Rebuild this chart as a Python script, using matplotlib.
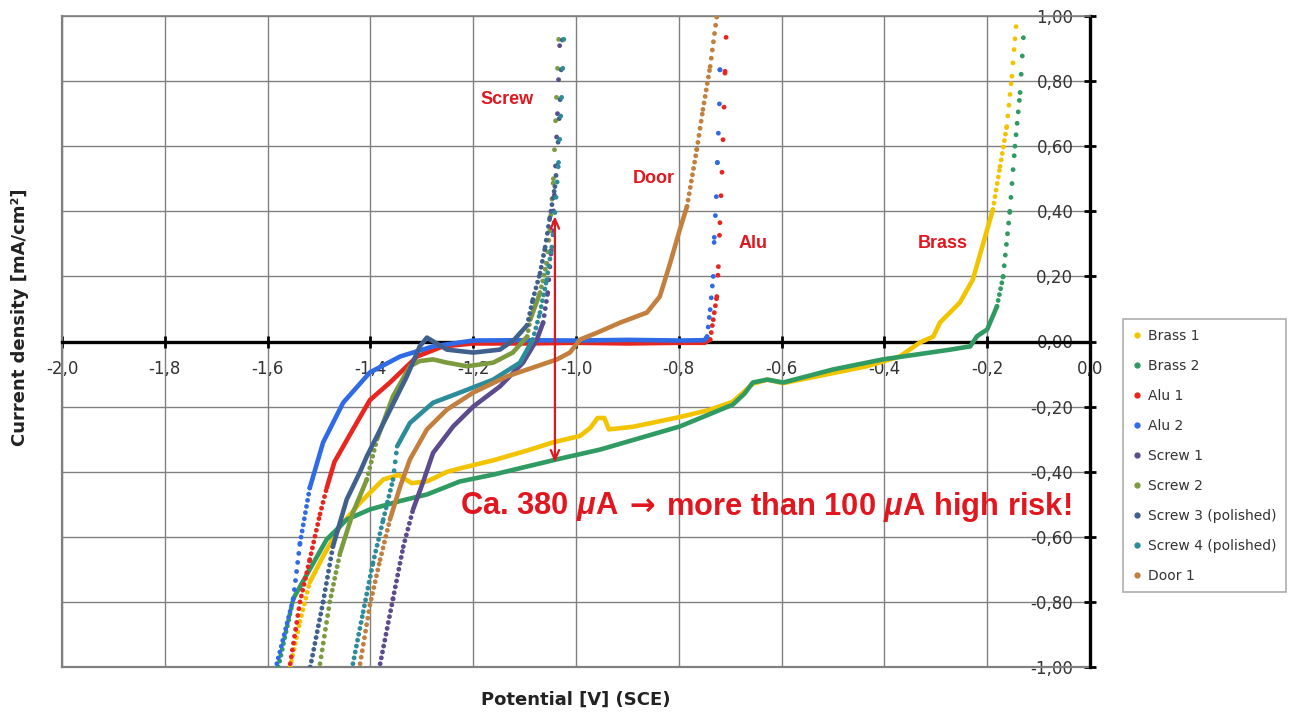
import numpy as np
import matplotlib

matplotlib.use("Agg")
import matplotlib.pyplot as plt
from matplotlib.lines import Line2D

plt.rcParams["font.family"] = ["DejaVu Sans"]
plt.rcParams["mathtext.fontset"] = "custom"
plt.rcParams["mathtext.it"] = "Liberation Sans:italic:bold"
plt.rcParams["mathtext.rm"] = "Liberation Sans:bold"

# ---- data (potential V vs SCE, current mA/cm2) ----
brass1_x = [-1.556, -1.537, -1.518, -1.492, -1.459, -1.42, -1.375, -1.345, -1.32, -1.29,
            -1.25, -1.226, -1.161, -1.095, -1.045, -0.992, -0.972, -0.958, -0.945, -0.936,
            -0.889, -0.798, -0.74, -0.695, -0.67, -0.656, -0.628, -0.597, -0.531, -0.434,
            -0.37, -0.331, -0.305, -0.292, -0.253, -0.228, -0.208, -0.189, -0.175, -0.162,
            -0.152, -0.146, -0.142]
brass1_y = [-1.0, -0.86, -0.74, -0.66, -0.568, -0.495, -0.424, -0.41, -0.435, -0.43,
            -0.40, -0.39, -0.365, -0.335, -0.31, -0.29, -0.265, -0.235, -0.235, -0.27,
            -0.262, -0.232, -0.21, -0.185, -0.15, -0.13, -0.117, -0.128, -0.107, -0.076,
            -0.046, -0.003, 0.015, 0.058, 0.12, 0.19, 0.30, 0.405, 0.538, 0.66,
            0.815, 0.93, 1.0]

brass2_x = [-1.579, -1.55, -1.518, -1.485, -1.446, -1.401, -1.342, -1.29, -1.226, -1.161,
            -1.037, -0.953, -0.798, -0.695, -0.672, -0.656, -0.628, -0.597, -0.50, -0.403,
            -0.272, -0.233, -0.22, -0.2, -0.181, -0.169, -0.156, -0.146, -0.136, -0.128]
brass2_y = [-1.0, -0.79, -0.70, -0.608, -0.547, -0.516, -0.49, -0.47, -0.43, -0.409,
            -0.362, -0.332, -0.261, -0.194, -0.16, -0.126, -0.117, -0.126, -0.086, -0.055,
            -0.025, -0.015, 0.016, 0.037, 0.108, 0.20, 0.40, 0.60, 0.765, 0.975]

alu1_x = [-1.556, -1.537, -1.518, -1.498, -1.485, -1.47, -1.434, -1.401, -1.362, -1.309,
          -1.259, -1.2, -1.1, -1.0, -0.9, -0.8, -0.75, -0.739, -0.733, -0.726,
          -0.723, -0.72, -0.716, -0.714, -0.712, -0.71, -0.708]
alu1_y = [-0.99, -0.80, -0.67, -0.53, -0.45, -0.37, -0.27, -0.18, -0.126, -0.046,
          -0.015, -0.006, -0.006, -0.004, -0.006, -0.004, -0.004, 0.006, 0.067, 0.138,
          0.23, 0.365, 0.52, 0.62, 0.72, 0.83, 0.937]

alu2_x = [-1.582, -1.55, -1.537, -1.518, -1.492, -1.453, -1.401, -1.342, -1.278, -1.2,
          -1.1, -1.0, -0.9, -0.8, -0.75, -0.745, -0.739, -0.733, -0.731, -0.727,
          -0.725, -0.723, -0.721, -0.72, -0.718]
alu2_y = [-0.99, -0.79, -0.62, -0.45, -0.31, -0.188, -0.095, -0.046, -0.015, 0.003,
          0.004, 0.003, 0.005, 0.003, 0.004, 0.015, 0.098, 0.2, 0.32, 0.445,
          0.55, 0.64, 0.73, 0.835, 0.937]

screw1_x = [-1.381, -1.356, -1.336, -1.317, -1.298, -1.278, -1.239, -1.2, -1.148, -1.103,
            -1.076, -1.064, -1.055, -1.048, -1.042, -1.036, -1.03]
screw1_y = [-0.99, -0.79, -0.63, -0.516, -0.434, -0.342, -0.261, -0.2, -0.138, -0.065,
            0.006, 0.058, 0.15, 0.28, 0.45, 0.70, 1.0]

screw2_x = [-1.498, -1.479, -1.459, -1.434, -1.407, -1.387, -1.356, -1.323, -1.304, -1.278,
            -1.251, -1.212, -1.161, -1.123, -1.095, -1.089, -1.07, -1.057, -1.051, -1.044,
            -1.038, -1.032]
screw2_y = [-0.99, -0.80, -0.65, -0.526, -0.424, -0.30, -0.168, -0.076, -0.06, -0.055,
            -0.065, -0.076, -0.065, -0.034, 0.015, 0.067, 0.15, 0.24, 0.34, 0.50,
            0.75, 1.0]

screw3_x = [-1.517, -1.492, -1.473, -1.446, -1.42, -1.407, -1.368, -1.329, -1.304, -1.29,
            -1.251, -1.2, -1.148, -1.12, -1.095, -1.084, -1.07, -1.06, -1.051, -1.041,
            -1.037, -1.031, -1.025]
screw3_y = [-1.0, -0.80, -0.63, -0.485, -0.40, -0.353, -0.23, -0.107, -0.015, 0.012,
            -0.025, -0.034, -0.025, 0.006, 0.05, 0.129, 0.21, 0.29, 0.38, 0.476,
            0.54, 0.743, 1.0]

screw4_x = [-1.434, -1.414, -1.395, -1.375, -1.356, -1.348, -1.323, -1.278, -1.226, -1.161,
            -1.109, -1.084, -1.07, -1.057, -1.047, -1.041, -1.034, -1.028, -1.022]
screw4_y = [-0.99, -0.83, -0.68, -0.547, -0.424, -0.322, -0.25, -0.188, -0.157, -0.117,
            -0.065, 0.006, 0.089, 0.19, 0.29, 0.396, 0.55, 0.75, 1.0]

door1_x = [-1.42, -1.401, -1.381, -1.362, -1.342, -1.323, -1.29, -1.251, -1.2, -1.134,
           -1.076, -1.037, -1.012, -0.992, -0.959, -0.914, -0.862, -0.837, -0.817, -0.798,
           -0.784, -0.765, -0.753, -0.739, -0.726]
door1_y = [-0.99, -0.81, -0.67, -0.547, -0.445, -0.362, -0.27, -0.209, -0.157, -0.107,
           -0.076, -0.055, -0.034, 0.006, 0.027, 0.058, 0.089, 0.138, 0.24, 0.344,
           0.415, 0.59, 0.713, 0.845, 1.0]

series_names = ["Brass 1", "Brass 2", "Alu 1", "Alu 2", "Screw 1", "Screw 2",
                "Screw 3 (polished)", "Screw 4 (polished)", "Door 1"]
series_x = [brass1_x, brass2_x, alu1_x, alu2_x, screw1_x, screw2_x, screw3_x, screw4_x, door1_x]
series_y = [brass1_y, brass2_y, alu1_y, alu2_y, screw1_y, screw2_y, screw3_y, screw4_y, door1_y]
series_colors = ["#F2C400", "#2F9A62", "#E8251E", "#2F6BE6", "#5C4B8E",
                 "#7C9A3E", "#40608E", "#2C8C99", "#C27F3D"]

x_ticks = [-2.0, -1.8, -1.6, -1.4, -1.2, -1.0, -0.8, -0.6, -0.4, -0.2, 0.0]
x_tick_labels = ["-2,0", "-1,8", "-1,6", "-1,4", "-1,2", "-1,0", "-0,8", "-0,6", "-0,4", "-0,2", "0,0"]
y_ticks = [-1.0, -0.8, -0.6, -0.4, -0.2, 0.0, 0.2, 0.4, 0.6, 0.8, 1.0]
y_tick_labels = ["-1,00", "-0,80", "-0,60", "-0,40", "-0,20", "0,00",
                 "0,20", "0,40", "0,60", "0,80", "1,00"]

RED = "#E2161E"
GRID = "#808080"
STEEP = 3.5  # screen slope above which the sampled points separate into dots
LW_SOLID = 3.3
LW_DOT = 3.5


def draw_curve(ax, xs, ys, color):
    """Dense parts as a thick line, steep parts as separated dots (like the raw samples)."""
    xs = np.asarray(xs)
    ys = np.asarray(ys)
    pts = ax.transData.transform(np.column_stack([xs, ys]))
    d = np.diff(pts, axis=0)
    steep = np.abs(d[:, 1]) / np.maximum(np.abs(d[:, 0]), 1e-9)
    i, n = 0, len(steep)
    while i < n:
        if steep[i] < STEEP:
            j = i
            while j < n and steep[j] < STEEP:
                j += 1
            ax.plot(xs[i:j + 1], ys[i:j + 1], color=color, lw=LW_SOLID,
                    solid_capstyle="round", solid_joinstyle="round", zorder=3)
            i = j
        else:
            gap_px = min(max(steep[i] * 1.1, 6.0), 34.0)
            gap = gap_px * 0.72 / LW_DOT
            ax.plot(xs[i:i + 2], ys[i:i + 2], color=color, lw=LW_DOT,
                    linestyle=(0, (0.001, gap)), dash_capstyle="round", zorder=3)
            i += 1


fig = plt.figure(figsize=(12.98, 7.13), dpi=100)
ax = fig.add_axes([62 / 1298, 46 / 713, 1028 / 1298, 651 / 713])
ax.set_xlim(-2.0, 0.0)
ax.set_ylim(-1.0, 1.0)

ax.set_xticks(x_ticks)
ax.set_xticklabels(x_tick_labels)
ax.set_yticks(y_ticks)
ax.set_yticklabels(y_tick_labels)
ax.grid(True, color=GRID, lw=1.0)
ax.set_axisbelow(True)

# axes cross at the origin, grey frame around the plot
for side in ("left", "bottom"):
    ax.spines[side].set_position(("data", 0))
    ax.spines[side].set_color("black")
    ax.spines[side].set_linewidth(2.4)
    ax.spines[side].set_zorder(2.5)
ax.spines["right"].set_visible(False)
ax.spines["top"].set_color(GRID)
ax.spines["top"].set_linewidth(1.2)
ax.axvline(-2.0, color=GRID, lw=1.6, clip_on=False, zorder=1)
ax.axhline(-1.0, color=GRID, lw=1.6, clip_on=False, zorder=1)

ax.tick_params(axis="both", direction="inout", length=8, width=2, color="black",
               labelsize=12, labelcolor="#333333")
ax.tick_params(axis="x", pad=9)
ax.tick_params(axis="y", pad=8)

for xs, ys, c in zip(series_x, series_y, series_colors):
    draw_curve(ax, xs, ys, c)

# annotations
ax.annotate("", xy=(-1.041, 0.385), xytext=(-1.041, -0.372),
            arrowprops=dict(arrowstyle="<->,head_length=0.7,head_width=0.3",
                            color=RED, lw=1.6, shrinkA=0, shrinkB=0), zorder=5)
lab_kw = dict(color=RED, fontsize=13, fontweight="bold", ha="center", va="center",
              family=["Liberation Sans", "DejaVu Sans"], zorder=6)
ax.text(-1.134, 0.743, "Screw", **lab_kw)
ax.text(-0.848, 0.50, "Door", **lab_kw)
ax.text(-0.656, 0.30, "Alu", **lab_kw)
ax.text(-0.286, 0.30, "Brass", **lab_kw)

big_kw = dict(color=RED, fontsize=22.2, fontweight="bold", zorder=6)
t1 = ax.text(-1.226, -0.507, r"Ca. 380 $\mu$A", ha="left", va="center",
             family=["Liberation Sans"], **big_kw)
t2 = ax.annotate(" \u2192 ", xy=(1, 0.5), xycoords=t1, ha="left", va="center",
                 family=["DejaVu Sans"], **big_kw)
ax.annotate(r"more than 100 $\mu$A high risk!", xy=(1, 0.5), xycoords=t2,
            ha="left", va="center", family=["Liberation Sans"], **big_kw)

fig.text(20 / 1298, 1 - 317 / 713, "Current density [mA/cm²]", rotation=90,
         ha="center", va="center", fontsize=13, fontweight="bold", color="#222222")
fig.text(576 / 1298, 1 - 700 / 713, "Potential [V] (SCE)",
         ha="center", va="center", fontsize=13, fontweight="bold", color="#222222")

handles = [Line2D([], [], marker="o", ms=3.5, ls="none", color=c) for c in series_colors]
leg = fig.legend(handles, series_names, loc="upper left",
                 bbox_to_anchor=(1123 / 1298, 1 - 319 / 713), bbox_transform=fig.transFigure,
                 fontsize=10, frameon=True, fancybox=False, borderaxespad=0,
                 handlelength=0.6, handletextpad=0.5, labelspacing=1.15,
                 borderpad=0.7, labelcolor="#333333")
leg.get_frame().set_edgecolor("#999999")
leg.get_frame().set_linewidth(1.2)

fig.savefig("out.png", dpi=100)
